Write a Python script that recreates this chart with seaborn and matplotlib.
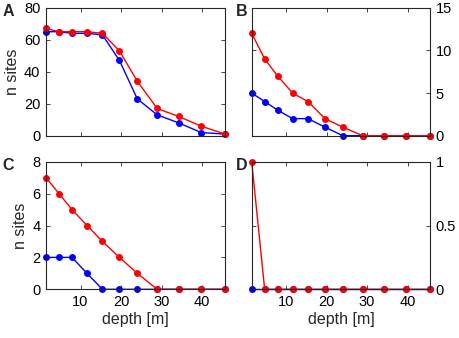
import numpy as np
import matplotlib
matplotlib.use("Agg")
import matplotlib.pyplot as plt
import seaborn as sns

depth = [1.5, 4.7, 7.9, 11.6, 15.4, 19.6, 24.0, 28.9, 34.2, 39.7, 45.6]

a_blue = [65, 65, 64, 64, 63, 47, 23, 13, 8, 2, 1]
a_red = [67, 65, 65, 65, 64, 53, 34, 17, 12, 6, 1]
b_blue = [5, 4, 3, 2, 2, 1, 0, 0, 0, 0, 0]
b_red = [12, 9, 7, 5, 4, 2, 1, 0, 0, 0, 0]
c_blue = [2, 2, 2, 1, 0, 0, 0, 0, 0, 0, 0]
c_red = [7, 6, 5, 4, 3, 2, 1, 0, 0, 0, 0]
d_blue = [0, 0, 0, 0, 0, 0, 0, 0, 0, 0, 0]
d_red = [1, 0, 0, 0, 0, 0, 0, 0, 0, 0, 0]

xticks = [10, 20, 30, 40]

sns.set_theme(style="white")
plt.rcParams['font.family'] = ['Liberation Sans', 'DejaVu Sans']

fig = plt.figure(figsize=(4.59, 3.38), dpi=100)
W, H = 459, 338

def make_axes(x0, x1, y0, y1):
    return fig.add_axes([x0 / W, 1 - y1 / H, (x1 - x0) / W, (y1 - y0) / H])

panels = [
    ("A", make_axes(46, 225, 7.7, 135.7), a_blue, a_red, 80, [0, 20, 40, 60, 80], "left", False),
    ("B", make_axes(251.7, 430.3, 7.7, 135.7), b_blue, b_red, 15, [0, 5, 10, 15], "right", False),
    ("C", make_axes(46, 225, 161.7, 289.3), c_blue, c_red, 8, [0, 2, 4, 6, 8], "left", True),
    ("D", make_axes(251.7, 430.3, 161.7, 289.3), d_blue, d_red, 1, [0, 0.5, 1], "right", True),
]

for letter, ax, blue, red, ymax, yticks, side, bottom in panels:
    for vals, col in [(blue, "#0000ff"), (red, "#ff0000")]:
        sns.lineplot(x=depth, y=vals, ax=ax, color=col, marker="o", markersize=5,
                     markeredgewidth=0, linewidth=1, clip_on=False)
    ax.set_xlim(depth[0], depth[-1])
    ax.set_ylim(0, ymax)
    ax.set_xticks(xticks)
    ax.set_yticks(yticks)
    ax.set_yticklabels([("%g" % t) for t in yticks])
    for sp in ax.spines.values():
        sp.set_color("#262626")
        sp.set_linewidth(0.8)
    ax.tick_params(direction="in", length=3, width=0.6, color="#262626",
                   top=True, bottom=True, left=True, right=True,
                   labelsize=10.5, labelcolor="black", pad=4)
    if side == "right":
        ax.yaxis.tick_right()
        ax.tick_params(left=True, right=True, labelleft=False, labelright=True)
    if bottom:
        ax.set_xlabel("depth [m]", fontsize=11.5, labelpad=2)
    else:
        ax.tick_params(labelbottom=False)
    if side == "left":
        ax.set_ylabel("n sites", fontsize=11.5, labelpad=3)
    pos = ax.get_position()
    lx = 2.5 / W if side == "left" else 236 / W
    fig.text(lx, pos.y1 + 4 / H, letter, fontsize=11.5, fontweight="bold",
             va="top", ha="left")

fig.savefig("out.png", dpi=100)
